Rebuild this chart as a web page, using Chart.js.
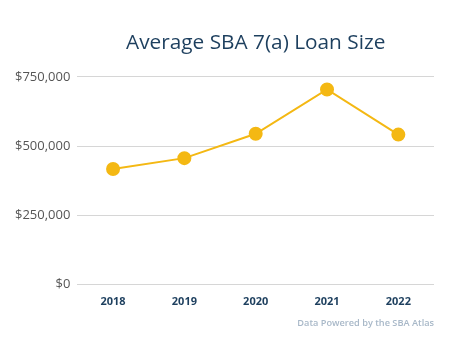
<!DOCTYPE html>
<html><head><meta charset="utf-8">
<script src="https://cdn.jsdelivr.net/npm/chart.js@4"></script>
<style>html,body{margin:0;padding:0;background:#fff}#wrap{width:474px;height:353px}</style>
</head><body><div id="wrap"><canvas id="c" width="474" height="353"></canvas></div>
<script>
const categories = ["2018", "2019", "2020", "2021", "2022"];
const loanSize = [418000, 457000, 545000, 705000, 542000];
const yTicks = [0, 250000, 500000, 750000];
const titleText = "Average SBA 7(a) Loan Size";
const sourceText = "Data Powered by the SBA Atlas";

new Chart(document.getElementById('c'), {
  type: 'line',
  data: {
    labels: categories,
    datasets: [{
      data: loanSize,
      borderColor: '#f4b813',
      backgroundColor: '#f4b813',
      borderWidth: 2,
      pointRadius: 6,
      pointHoverRadius: 6,
      tension: 0,
      fill: false
    }]
  },
  options: {
    responsive: false,
    animation: false,
    layout: { padding: { left: 8, right: 40, top: 24, bottom: 10 } },
    plugins: {
      legend: { display: false },
      tooltip: { enabled: false },
      title: {
        display: true, text: titleText, fullSize: false,
        color: '#1d3f5e',
        font: { family: 'Open Sans', size: 20.8, weight: 'normal' },
        padding: { top: 7, bottom: 21 }
      },
      subtitle: {
        display: true, text: sourceText, position: 'bottom', align: 'end', fullSize: false,
        color: '#a8b8c8',
        font: { family: 'Open Sans', size: 9.2, weight: '600' },
        padding: { top: 0, bottom: 14 }
      }
    },
    scales: {
      x: {
        offset: true,
        grid: { display: false, drawTicks: false },
        border: { display: false },
        ticks: { color: '#1d3f5e', font: { family: 'Open Sans', size: 11, weight: 'bold' }, padding: 10 }
      },
      y: {
        min: 0, max: 750000,
        afterBuildTicks: (s) => { s.ticks = yTicks.map(v => ({ value: v })); },
        grid: { color: '#d6d6d6', lineWidth: 1, drawTicks: false },
        border: { display: false },
        ticks: {
          color: '#555555', padding: 7,
          font: { family: 'Open Sans', size: 13 },
          callback: (v) => '$' + Number(v).toLocaleString('en-US')
        }
      }
    }
  }
});
</script></body></html>
